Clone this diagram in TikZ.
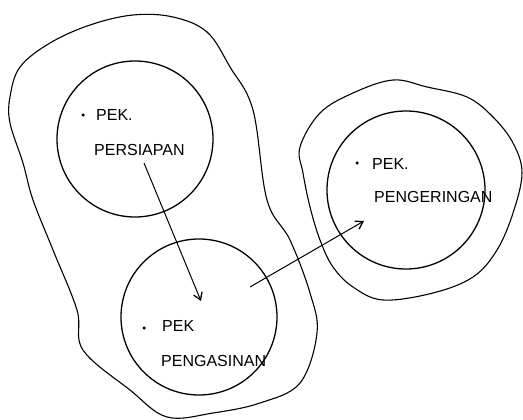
\documentclass[tikz,border=0pt]{standalone}
\usepackage{fontspec}
\setmainfont{Liberation Sans}
\usetikzlibrary{arrows.meta}
\begin{document}
\begin{tikzpicture}[x=1pt,y=-1pt,
  ring/.style={circle,draw,line width=1.3pt,inner sep=0pt},
  blob/.style={draw,line width=1.1pt},
  lbl/.style={anchor=west,inner sep=0pt,font=\fontsize{16}{18}\selectfont},
  dotmark/.style={circle,fill,inner sep=0pt,minimum size=3.5pt},
  flow/.style={draw,line width=1pt,-{Straight Barb[length=7pt,width=9pt,line width=1.3pt]}}]
\useasboundingbox (0,0) rectangle (523,420);
% outer blobs
\draw[blob] plot[smooth cycle,tension=0.6] coordinates {
 (207,32) (230,67) (253,110) (267,200) (290,240) (310,293) (317,333) (300,383)
 (260,403) (213,413) (167,417) (130,390) (83,350) (77,310) (53,250) (33,200)
 (23,163) (10,123) (10,97) (20,67) (50,43) (90,25) (133,15) (173,17)};
\draw[blob] plot[smooth cycle,tension=0.6] coordinates {
 (300,147) (320,113) (353,93) (393,80) (427,87) (467,97) (493,117) (513,143)
 (522,173) (513,213) (497,250) (473,277) (433,293) (383,300) (353,287) (333,267)
 (320,240) (310,207) (303,173)};
% circles
\node[ring,minimum size=156pt] (persiapan) at (135,139) {};
\node[ring,minimum size=156pt] (pengasinan) at (199,317) {};
\node[ring,minimum size=158pt] (pengeringan) at (406,190) {};
% labels
\node[dotmark] (d1) at (83,115) {};
\node[lbl] (t1a) at (96,115) {PEK.};
\node[lbl] (t1b) at (94,150) {PERSIAPAN};
\node[dotmark] (d2) at (144,328) {};
\node[lbl] (t2a) at (162,326) {PEK};
\node[lbl] (t2b) at (161,361) {PENGASINAN};
\node[dotmark] (d3) at (357,163) {};
\node[lbl] (t3a) at (372,164) {PEK.};
\node[lbl] (t3b) at (374,197) {PENGERINGAN};
% connectors
\coordinate (a1s) at (144,163);
\coordinate (a1e) at (201,301);
\coordinate (a2s) at (250,287);
\coordinate (a2e) at (364,221);
\draw[flow] (a1s) -- (a1e);
\draw[flow] (a2s) -- (a2e);
\end{tikzpicture}
\end{document}
